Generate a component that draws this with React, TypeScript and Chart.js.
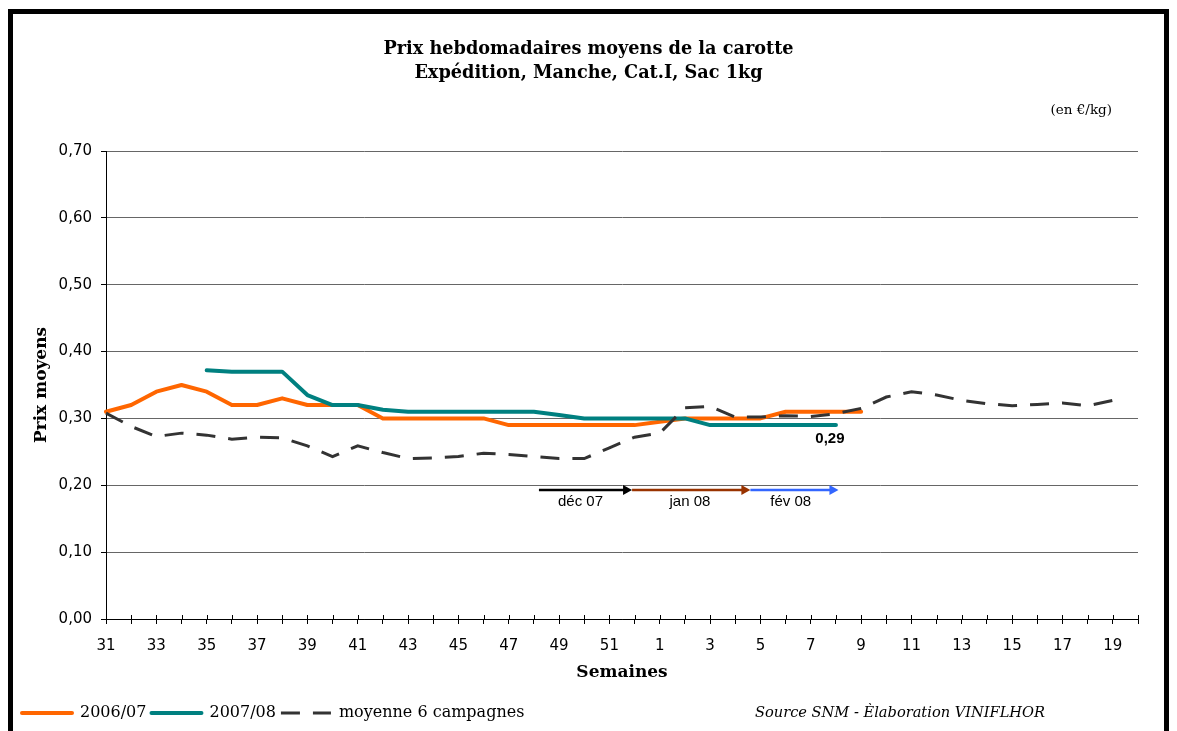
import React, { useEffect, useRef } from 'react';
import { Chart, registerables } from 'chart.js';

Chart.register(...registerables);

// ---- data ----
const weeks = [
  '31', '32', '33', '34', '35', '36', '37', '38', '39', '40', '41', '42', '43', '44', '45', '46', '47', '48', '49', '50', '51', '52',
  '1', '2', '3', '4', '5', '6', '7', '8', '9', '10', '11', '12', '13', '14', '15', '16', '17', '18', '19', '20',
];

const prix2006 = [
  0.31, 0.32, 0.34, 0.35, 0.34, 0.32, 0.32, 0.33, 0.32, 0.32, 0.32, 0.30, 0.30, 0.30, 0.30, 0.30, 0.29, 0.29, 0.29, 0.29, 0.29, 0.29,
  0.295, 0.30, 0.30, 0.30, 0.30, 0.31, 0.31, 0.31, 0.31, null, null, null, null, null, null, null, null, null, null, null,
];

const prix2007 = [
  null, null, null, null, 0.372, 0.37, 0.37, 0.37, 0.335, 0.32, 0.32, 0.313, 0.31, 0.31, 0.31, 0.31, 0.31, 0.31, 0.305, 0.30, 0.30, 0.30,
  0.30, 0.30, 0.29, 0.29, 0.29, 0.29, 0.29, 0.29, null, null, null, null, null, null, null, null, null, null, null, null,
];

const moyenne6 = [
  0.308, 0.288, 0.273, 0.278, 0.275, 0.269, 0.272, 0.271, 0.259, 0.243, 0.259, 0.249, 0.240, 0.241, 0.243, 0.248, 0.246, 0.243, 0.240, 0.240, 0.256, 0.272,
  0.278, 0.316, 0.318, 0.302, 0.302, 0.304, 0.303, 0.307, 0.315, 0.332, 0.340, 0.335, 0.327, 0.322, 0.319, 0.321, 0.323, 0.319, 0.327, null,
];

const seriesLabels = ['2006/07', '2007/08', 'moyenne 6 campagnes'];
const titleLines = ['Prix hebdomadaires moyens de la carotte', 'Expédition, Manche, Cat.I, Sac 1kg'];

// month arrows (positions in category-index units, level in €/kg)
const monthLabels = ['déc 07', 'jan 08', 'fév 08'];
const monthArrowFrom = [17.2, 20.9, 25.6];
const monthArrowTo = [20.9, 25.6, 29.1];
const monthLabelAt = [18.85, 23.2, 27.2];
const monthArrowLevel = 0.193;
const monthColors = ['#000000', '#993300', '#3366FF'];

const SERIF = '"DejaVu Serif", serif';
const SANS = '"DejaVu Sans", sans-serif';
const ARIAL = '"Liberation Sans", Arial, sans-serif';

const annotationPlugin = {
  id: 'annotations',
  afterDatasetsDraw(chart: any) {
    const { ctx, chartArea, scales } = chart;
    const x = scales.x;
    const y = scales.y;
    ctx.save();
    // upper half of x tick marks (crossing the axis)
    ctx.strokeStyle = '#000';
    ctx.lineWidth = 1;
    const yb = chartArea.bottom;
    x.ticks.forEach((_: any, i: number) => {
      const px = Math.round(x.getPixelForTick(i)) + 0.5;
      ctx.beginPath();
      ctx.moveTo(px, yb - 4);
      ctx.lineTo(px, yb);
      ctx.stroke();
    });
    // month arrows
    const ay = y.getPixelForValue(monthArrowLevel);
    monthLabels.forEach((lab, i) => {
      const x0 = x.getPixelForValue(monthArrowFrom[i]);
      const x1 = x.getPixelForValue(monthArrowTo[i]);
      ctx.strokeStyle = monthColors[i];
      ctx.fillStyle = monthColors[i];
      ctx.lineWidth = 2.5;
      ctx.beginPath();
      ctx.moveTo(x0, ay);
      ctx.lineTo(x1 - 8, ay);
      ctx.stroke();
      ctx.beginPath();
      ctx.moveTo(x1, ay);
      ctx.lineTo(x1 - 9, ay - 5);
      ctx.lineTo(x1 - 9, ay + 5);
      ctx.closePath();
      ctx.fill();
      ctx.fillStyle = '#000';
      ctx.font = `15px ${ARIAL}`;
      ctx.textAlign = 'center';
      ctx.textBaseline = 'middle';
      ctx.fillText(lab, x.getPixelForValue(monthLabelAt[i]), ay + 12);
    });
    // last value label of 2007/08
    let last = -1;
    prix2007.forEach((v, i) => { if (v != null) last = i; });
    const meta = chart.getDatasetMeta(1);
    const pt = meta.data[last];
    if (pt) {
      ctx.fillStyle = '#000';
      ctx.font = `bold 15px ${ARIAL}`;
      ctx.textAlign = 'center';
      ctx.textBaseline = 'middle';
      ctx.fillText((prix2007[last] as number).toFixed(2).replace('.', ','), pt.x - 6, pt.y + 14);
    }
    ctx.restore();
  },
  afterDraw(chart: any) {
    const { ctx, chartArea } = chart;
    ctx.save();
    ctx.fillStyle = '#000';
    ctx.textBaseline = 'middle';
    ctx.font = `13.5px ${SERIF}`;
    ctx.textAlign = 'right';
    ctx.fillText('(en €/kg)', chartArea.right - 26, chartArea.top - 41);
    ctx.font = `italic 14.6px ${SERIF}`;
    ctx.textAlign = 'left';
    const ly = chart.legend ? chart.legend.top + 13 : chart.height - 18;
    ctx.fillText('Source SNM - Èlaboration VINIFLHOR', chartArea.left + 649, ly);
    ctx.restore();
  },
};

export default function App() {
  const canvasRef = useRef<HTMLCanvasElement | null>(null);

  useEffect(() => {
    const prevOverflow = document.documentElement.style.overflow;
    document.documentElement.style.overflow = 'hidden';
    const canvas = canvasRef.current;
    if (!canvas) return;
    const chart = new Chart(canvas, {
      type: 'line',
      data: {
        labels: weeks,
        datasets: [
          {
            label: seriesLabels[0],
            data: prix2006,
            borderColor: '#FF6600',
            backgroundColor: '#FF6600',
            borderWidth: 4,
            borderCapStyle: 'round',
            borderJoinStyle: 'round',
            pointRadius: 0,
            tension: 0,
            order: 3,
          },
          {
            label: seriesLabels[1],
            data: prix2007,
            borderColor: '#008080',
            backgroundColor: '#008080',
            borderWidth: 4,
            borderCapStyle: 'round',
            borderJoinStyle: 'round',
            pointRadius: 0,
            tension: 0,
            order: 2,
          },
          {
            label: seriesLabels[2],
            data: moyenne6,
            borderColor: '#333333',
            backgroundColor: '#333333',
            borderWidth: 3,
            borderDash: [19, 13],
            borderCapStyle: 'butt',
            pointRadius: 0,
            tension: 0,
            order: 1,
          },
        ] as any,
      },
      options: {
        responsive: false,
        animation: false,
        devicePixelRatio: 1,
        events: [],
        layout: { padding: { left: 4, right: 4, top: 0, bottom: 0 } },
        plugins: {
          title: {
            display: true,
            text: titleLines,
            color: '#000',
            font: { family: SERIF, size: 17.7, weight: 'bold', lineHeight: '24px' } as any,
            padding: { top: 23, bottom: 66 },
          },
          legend: {
            position: 'bottom',
            align: 'start',
            labels: {
              usePointStyle: true,
              pointStyle: 'line',
              pointStyleWidth: 50,
              padding: 5,
              color: '#000',
              font: { family: SERIF, size: 16 },
              generateLabels: (c: any) =>
                c.data.datasets.map((ds: any, i: number) => ({
                  text: ds.label,
                  fillStyle: ds.borderColor,
                  strokeStyle: ds.borderColor,
                  lineWidth: ds.borderWidth,
                  lineDash: ds.borderDash || [],
                  lineCap: ds.borderCapStyle || 'butt',
                  pointStyle: 'line',
                  rotation: 0,
                  hidden: false,
                  datasetIndex: i,
                  fontColor: '#000',
                })),
            },
          },
          tooltip: { enabled: false },
        },
        scales: {
          x: {
            type: 'category',
            offset: false,
            afterFit: (s: any) => { s.height = 81; },
            grid: { drawOnChartArea: false, tickLength: 5, color: '#000', tickColor: '#000' },
            border: { color: '#000' },
            ticks: {
              autoSkip: false,
              maxRotation: 0,
              minRotation: 0,
              padding: 13,
              color: '#000',
              font: { family: SANS, size: 15 },
              callback: (_v: any, i: number) => (i % 2 === 0 ? weeks[i] : ''),
            },
            title: {
              display: true,
              text: 'Semaines',
              color: '#000',
              font: { family: SERIF, size: 17, weight: 'bold' },
              padding: { top: 0, bottom: 17 },
            },
          },
          y: {
            min: 0,
            max: 0.7,
            afterFit: (s: any) => { s.width = 89; },
            ticks: {
              stepSize: 0.1,
              padding: 9,
              color: '#000',
              font: { family: SANS, size: 15 },
              callback: (v: any) => Number(v).toFixed(2).replace('.', ','),
            },
            grid: {
              color: (c: any) => (c.tick && Math.abs(c.tick.value) < 1e-9 ? '#000' : '#666'),
              tickColor: '#000',
              tickLength: 5,
            },
            border: { color: '#000' },
            title: {
              display: true,
              text: 'Prix moyens',
              color: '#000',
              font: { family: SERIF, size: 17, weight: 'bold' },
              padding: { top: 14, bottom: 0 },
            },
          },
          yRight: {
            type: 'linear',
            position: 'right',
            afterFit: (s: any) => { s.width = 22; },
            grid: { display: false },
            border: { display: false },
            ticks: { display: false },
          },
        },
      } as any,
      plugins: [annotationPlugin],
    });
    return () => {
      chart.destroy();
      document.documentElement.style.overflow = prevOverflow;
    };
  }, []);

  return (
    <div style={{ paddingTop: 1, width: 1161, height: 722, overflow: 'hidden' }}>
      <div style={{ border: '5px solid #000', width: 1151, height: 740, background: '#fff' }}>
        <canvas ref={canvasRef} width={1151} height={717} style={{ display: 'block' }} />
      </div>
    </div>
  );
}
